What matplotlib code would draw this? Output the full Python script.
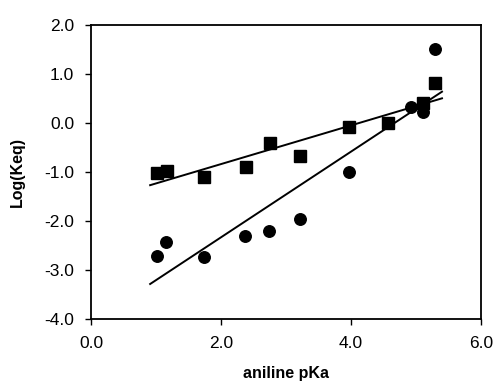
import numpy as np
import matplotlib
matplotlib.use("Agg")
import matplotlib.pyplot as plt

plt.rcParams['font.family'] = ['Liberation Sans', 'DejaVu Sans']

# Data
sq_x = [1.01, 1.17, 1.74, 2.38, 2.75, 3.22, 3.97, 4.57, 5.11, 5.29]
sq_y = [-1.03, -0.97, -1.10, -0.90, -0.41, -0.67, -0.09, -0.01, 0.40, 0.82]
ci_x = [1.01, 1.16, 1.74, 2.37, 2.74, 3.22, 3.97, 4.92, 5.11, 5.29]
ci_y = [-2.71, -2.43, -2.74, -2.30, -2.20, -1.96, -0.99, 0.33, 0.23, 1.52]
fit_range = [0.91, 5.40]
x_ticks = [0.0, 2.0, 4.0, 6.0]
y_ticks = [-4.0, -3.0, -2.0, -1.0, 0.0, 1.0, 2.0]

fig = plt.figure(figsize=(4.95, 3.86), dpi=100)
ax = fig.add_axes([91/495, 1-319/386, (481-91)/495, (319-25)/386])

xf = np.array(fit_range)
for xs, ys in [(sq_x, sq_y), (ci_x, ci_y)]:
    m, b = np.polyfit(xs, ys, 1)
    ax.plot(xf, m*xf + b, color='black', lw=1.4, zorder=2)

ax.plot(sq_x, sq_y, 's', color='black', ms=8.5, zorder=3)
ax.plot(ci_x, ci_y, 'o', color='black', ms=8.3, zorder=3)

ax.set_xlim(0, 6)
ax.set_ylim(-4, 2)
ax.set_xticks(x_ticks)
ax.set_yticks(y_ticks)
ax.set_xticklabels([f"{v:.1f}" for v in x_ticks], fontsize=12.5)
ax.set_yticklabels([f"{v:.1f}" for v in y_ticks], fontsize=12.5)
ax.tick_params(direction='out', length=4, width=1, pad=8, top=False, right=False)
for s in ax.spines.values():
    s.set_linewidth(1.3)
    s.set_color('black')

ax.set_xlabel('aniline pKa', fontsize=11.5, fontweight='bold', labelpad=11)
ax.set_ylabel('Log(Keq)', fontsize=11.5, fontweight='bold', labelpad=14)

fig.savefig('out.png', dpi=100)
